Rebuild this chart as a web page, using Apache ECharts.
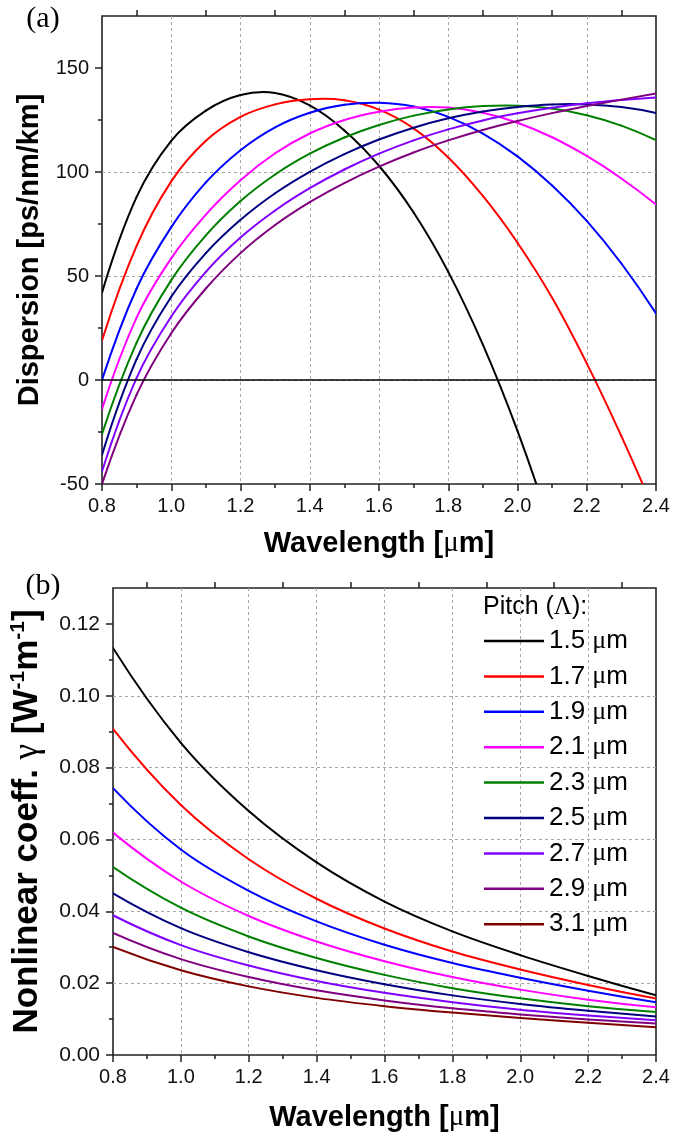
<!DOCTYPE html>
<html>
<head>
<meta charset="utf-8">
<title>Dispersion and nonlinear coefficient vs wavelength</title>
<script src="https://cdn.jsdelivr.net/npm/echarts@6/dist/echarts.min.js"></script>
<style>
  html, body { margin: 0; padding: 0; background: #ffffff; }
  #chart { width: 696px; height: 1136px; }
</style>
</head>
<body>
<div id="chart"></div>
<script>
// ---- panel (a): chromatic dispersion [ps/nm/km] ----
const wavelengthD = [0.8, 0.9, 1.0, 1.1, 1.2, 1.3, 1.4, 1.5, 1.6, 1.7, 1.8, 1.9, 2.0, 2.1, 2.2, 2.3, 2.4];
const disp15 = [42, 88, 115, 129.5, 137, 138, 132, 120, 103, 80.5, 52, 17, -24.5, -73, null, null, null];
const disp17 = [19, 64.5, 95.5, 115, 126.5, 132.5, 135, 134.5, 130, 121, 107, 88.5, 66, 39.5, 8, -27, -65];
const disp19 = [0, 44, 73.5, 95, 110.5, 121.5, 128.5, 132.3, 133.3, 131.5, 126.5, 118.5, 107.5, 93.5, 76.5, 56, 32];
const disp21 = [-14, 30, 58.5, 79.5, 96, 109, 118.5, 125, 129, 131, 131, 128.5, 123.7, 116.7, 107.7, 96.9, 84.4];
const disp23 = [-26, 18, 48, 69.5, 86, 98.8, 108.8, 116.6, 122.6, 127.1, 130.1, 131.7, 131.9, 130.5, 127.3, 122.3, 115.3];
const disp25 = [-36, 10, 40, 61, 77, 89.8, 100.1, 108.6, 115.6, 121.3, 125.8, 129.1, 131.3, 132.5, 132.5, 131.2, 128.4];
const disp27 = [-44, 1, 30.5, 52, 68.5, 81.5, 92.2, 101.2, 108.8, 115.2, 120.5, 124.8, 128.2, 130.9, 133, 134.6, 135.8];
const disp29 = [-50, -7, 22.5, 44, 61, 74.5, 85.5, 94.7, 102.6, 109.4, 115.2, 120.2, 124.5, 128.3, 131.7, 134.8, 137.7];

// ---- panel (b): nonlinear coefficient gamma [1/(W m)] ----
const wavelengthG = [0.8, 1.0, 1.2, 1.4, 1.6, 1.8, 2.0, 2.2, 2.4];
const gamma15 = [0.1133, 0.0869, 0.0679, 0.0536, 0.0427, 0.0344, 0.0278, 0.0220, 0.0166];
const gamma17 = [0.0908, 0.0696, 0.0545, 0.0435, 0.0352, 0.0288, 0.0238, 0.0195, 0.0157];
const gamma19 = [0.0743, 0.0572, 0.0457, 0.0372, 0.0307, 0.0256, 0.0215, 0.0179, 0.0147];
const gamma21 = [0.0619, 0.0483, 0.0387, 0.0316, 0.0261, 0.0217, 0.0182, 0.0154, 0.0133];
const gamma23 = [0.0523, 0.0410, 0.0330, 0.0270, 0.0223, 0.0186, 0.0158, 0.0136, 0.0120];
const gamma25 = [0.0450, 0.0353, 0.0286, 0.0236, 0.0197, 0.0166, 0.0142, 0.0123, 0.0107];
const gamma27 = [0.0389, 0.0306, 0.0249, 0.0206, 0.0173, 0.0147, 0.0126, 0.0110, 0.0097];
const gamma29 = [0.0340, 0.0267, 0.0217, 0.0180, 0.0152, 0.0130, 0.0113, 0.0099, 0.0088];
const gamma31 = [0.0301, 0.0236, 0.0191, 0.0159, 0.0136, 0.0118, 0.0103, 0.0090, 0.0077];

// ---- series names and tick values ----
const pitchNames = ['1.5 μm', '1.7 μm', '1.9 μm', '2.1 μm', '2.3 μm', '2.5 μm', '2.7 μm', '2.9 μm', '3.1 μm'];
const dispersionSets = [disp15, disp17, disp19, disp21, disp23, disp25, disp27, disp29];
const gammaSets = [gamma15, gamma17, gamma19, gamma21, gamma23, gamma25, gamma27, gamma29, gamma31];
const dispMajorTicks = [-50, 0, 50, 100, 150];
const dispMinorTicks = [-25, 25, 75, 125];
const gammaMajorTicks = [0, 0.02, 0.04, 0.06, 0.08, 0.10, 0.12];
const gammaMinorTicks = [0.01, 0.03, 0.05, 0.07, 0.09, 0.11];
const wavelengthTopTicks = [0.9, 1.1, 1.3, 1.5, 1.7, 1.9, 2.1, 2.3];

// ---- styling ----
const lineColors = ['#000000', '#ff0000', '#0000ff', '#ff00ff', '#008000', '#000080', '#8000ff', '#800080', '#800000'];
const sans = '"Liberation Sans", Arial, sans-serif';
const serif = '"Liberation Serif", "Times New Roman", serif';
const frameColor = '#222222';
const gridLineStyle = { color: '#a6a6a6', width: 1, type: [3, 3] };
const tickStyle = { color: frameColor, width: 1.5 };

function labelStyle(size) {
  return { fontSize: size, fontFamily: sans, color: '#111111' };
}
function titleStyle(size) {
  return {
    fontSize: size, fontWeight: 'bold', fontFamily: sans, color: '#000000',
    rich: {
      g: { fontSize: size, fontFamily: serif, fontWeight: 'normal', color: '#000000' },
      sup: { fontSize: Math.round(size * 0.6), fontWeight: 'bold', fontFamily: sans, color: '#000000',
             verticalAlign: 'top', padding: [0, 0, Math.round(size * 0.5), 0] }
    }
  };
}

const panelA = { left: 102, top: 16, width: 554, height: 468 };
const panelB = { left: 111, top: 588, width: 545, height: 467 };

function pairs(xs, ys) {
  const out = [];
  xs.forEach((x, i) => { if (ys[i] !== null) out.push([x, ys[i]]); });
  return out;
}

// Each data item draws the cubic piece from its point to the next one.
// Tangents come from the three-point (quadratic) derivative in pixel space,
// so the joined pieces form a smooth curve through every data point.
function smoothCurveRenderer(color) {
  return function (params, api) {
    const i = params.dataIndexInside;
    const n = params.dataInsideLength;
    if (i >= n - 1) return null;
    const P = k => api.coord([api.value(0, k), api.value(1, k)]);
    const slope = (a, b) => (b[1] - a[1]) / (b[0] - a[0]);
    function tangent(j) {
      if (n < 3) return slope(P(0), P(1));
      let a, b, c, end = 0;
      if (j === 0) { a = P(0); b = P(1); c = P(2); end = -1; }
      else if (j === n - 1) { a = P(n - 3); b = P(n - 2); c = P(n - 1); end = 1; }
      else { a = P(j - 1); b = P(j); c = P(j + 1); }
      const h0 = b[0] - a[0], h1 = c[0] - b[0];
      const d0 = slope(a, b), d1 = slope(b, c);
      if (end === -1) return d0 - (d1 - d0) * h0 / (h0 + h1);
      if (end === 1) return d1 + (d1 - d0) * h1 / (h0 + h1);
      return (d0 * h1 + d1 * h0) / (h0 + h1);
    }
    const p0 = P(i), p1 = P(i + 1);
    const m0 = tangent(i), m1 = tangent(i + 1);
    const dx = (p1[0] - p0[0]) / 3;
    return {
      type: 'bezierCurve',
      shape: {
        x1: p0[0], y1: p0[1], x2: p1[0], y2: p1[1],
        cpx1: p0[0] + dx, cpy1: p0[1] + m0 * dx,
        cpx2: p1[0] - dx, cpy2: p1[1] - m1 * dx
      },
      style: { stroke: color, lineWidth: 2, fill: null, lineCap: 'round' },
      silent: true
    };
  };
}

function curveSeries(name, color, xIdx, yIdx, data) {
  return {
    type: 'custom', name, xAxisIndex: xIdx, yAxisIndex: yIdx,
    data, encode: { x: 0, y: 1 }, clip: true, silent: true,
    itemStyle: { color },
    renderItem: smoothCurveRenderer(color)
  };
}

function bottomWavelengthAxis(gridIndex, nameGap) {
  return {
    gridIndex, type: 'value', position: 'bottom', min: 0.8, max: 2.4, interval: 0.2,
    axisLine: { show: false, onZero: false },
    axisTick: { show: true, length: 7, lineStyle: tickStyle },
    minorTick: { show: true, splitNumber: 2, length: 4, lineStyle: tickStyle },
    axisLabel: Object.assign({ margin: 12, formatter: v => v.toFixed(1) }, labelStyle(20)),
    splitLine: { show: true, showMinLine: false, showMaxLine: false, lineStyle: gridLineStyle },
    name: 'Wavelength [{g|μ}m]', nameLocation: 'middle', nameGap,
    nameTextStyle: titleStyle(29)
  };
}

function topWavelengthAxis(gridIndex) {
  return {
    gridIndex, type: 'value', position: 'top', min: 0.8, max: 2.4,
    axisLine: { show: false, onZero: false },
    axisTick: { show: true, length: 6, lineStyle: tickStyle, customValues: wavelengthTopTicks },
    axisLabel: { show: false },
    splitLine: { show: false }
  };
}

function minorValueAxis(gridIndex, min, max, values) {
  return {
    gridIndex, type: 'value', position: 'left', min, max,
    axisLine: { show: false, onZero: false },
    axisTick: { show: true, length: 4, lineStyle: tickStyle, customValues: values },
    axisLabel: { show: false },
    splitLine: { show: false }
  };
}

const series = [];
dispersionSets.forEach((vals, i) => {
  const s = curveSeries(pitchNames[i], lineColors[i], 0, 0, pairs(wavelengthD, vals));
  if (i === 0) {
    // horizontal reference line at zero dispersion
    s.markLine = {
      silent: true, symbol: 'none', label: { show: false },
      lineStyle: { color: '#000000', width: 1.6, type: 'solid' },
      data: [{ yAxis: 0 }]
    };
  }
  series.push(s);
});
gammaSets.forEach((vals, i) => {
  series.push(curveSeries(pitchNames[i], lineColors[i], 2, 2, pairs(wavelengthG, vals)));
});

const option = {
  animation: false,
  backgroundColor: '#ffffff',
  tooltip: { show: false },
  grid: [
    Object.assign({ show: true, borderColor: frameColor, borderWidth: 1.6, backgroundColor: 'transparent' }, panelA),
    Object.assign({ show: true, borderColor: frameColor, borderWidth: 1.6, backgroundColor: 'transparent' }, panelB)
  ],
  xAxis: [
    bottomWavelengthAxis(0, 45),
    topWavelengthAxis(0),
    bottomWavelengthAxis(1, 48),
    topWavelengthAxis(1)
  ],
  yAxis: [
    {
      gridIndex: 0, type: 'value', position: 'left', min: -50, max: 175, interval: 50,
      axisLine: { show: false, onZero: false },
      axisTick: { show: true, length: 7, lineStyle: tickStyle, customValues: dispMajorTicks },
      axisLabel: Object.assign({ margin: 13, customValues: dispMajorTicks, formatter: v => String(v) }, labelStyle(20)),
      splitLine: { show: true, showMinLine: false, showMaxLine: false, lineStyle: gridLineStyle },
      name: 'Dispersion [ps/nm/km]', nameLocation: 'middle', nameGap: 58,
      nameTextStyle: titleStyle(29)
    },
    minorValueAxis(0, -50, 175, dispMinorTicks),
    {
      gridIndex: 1, type: 'value', position: 'left', min: 0, max: 0.13, interval: 0.02,
      axisLine: { show: false, onZero: false },
      axisTick: { show: true, length: 7, lineStyle: tickStyle, customValues: gammaMajorTicks },
      axisLabel: Object.assign({ margin: 13, customValues: gammaMajorTicks, formatter: v => v.toFixed(2) }, labelStyle(21)),
      splitLine: { show: true, showMinLine: false, showMaxLine: false, lineStyle: gridLineStyle },
      name: 'Nonlinear coeff. {g|γ} [W{sup|-1}m{sup|-1}]', nameLocation: 'middle', nameGap: 66,
      nameTextStyle: titleStyle(35)
    },
    minorValueAxis(1, 0, 0.13, gammaMinorTicks)
  ],
  legend: {
    data: pitchNames,
    orient: 'vertical', left: 484, top: 628, padding: 0,
    icon: 'rect', itemWidth: 60, itemHeight: 2.5, itemGap: 9.4,
    selectedMode: false,
    textStyle: {
      fontSize: 26, fontFamily: sans, color: '#000000', lineHeight: 26,
      rich: { g: { fontSize: 26, fontFamily: serif, color: '#000000', lineHeight: 26 } }
    },
    formatter: name => name.replace('μ', '{g|μ}')
  },
  graphic: [
    { type: 'text', x: 43, y: 19, style: { text: '(a)', font: '30px ' + serif, fill: '#000000', textAlign: 'center', textVerticalAlign: 'middle' } },
    { type: 'text', x: 43, y: 586, style: { text: '(b)', font: '30px ' + serif, fill: '#000000', textAlign: 'center', textVerticalAlign: 'middle' } },
    {
      type: 'text', x: 483, y: 607,
      style: {
        text: 'Pitch ({g|Λ}):', fontSize: 25, fontFamily: sans, fill: '#000000', textVerticalAlign: 'middle',
        rich: { g: { fontSize: 25, fontFamily: serif, fill: '#000000' } }
      }
    }
  ],
  series
};

const chart = echarts.init(document.getElementById('chart'), null, { renderer: 'canvas' });
chart.setOption(option);
</script>
</body>
</html>
